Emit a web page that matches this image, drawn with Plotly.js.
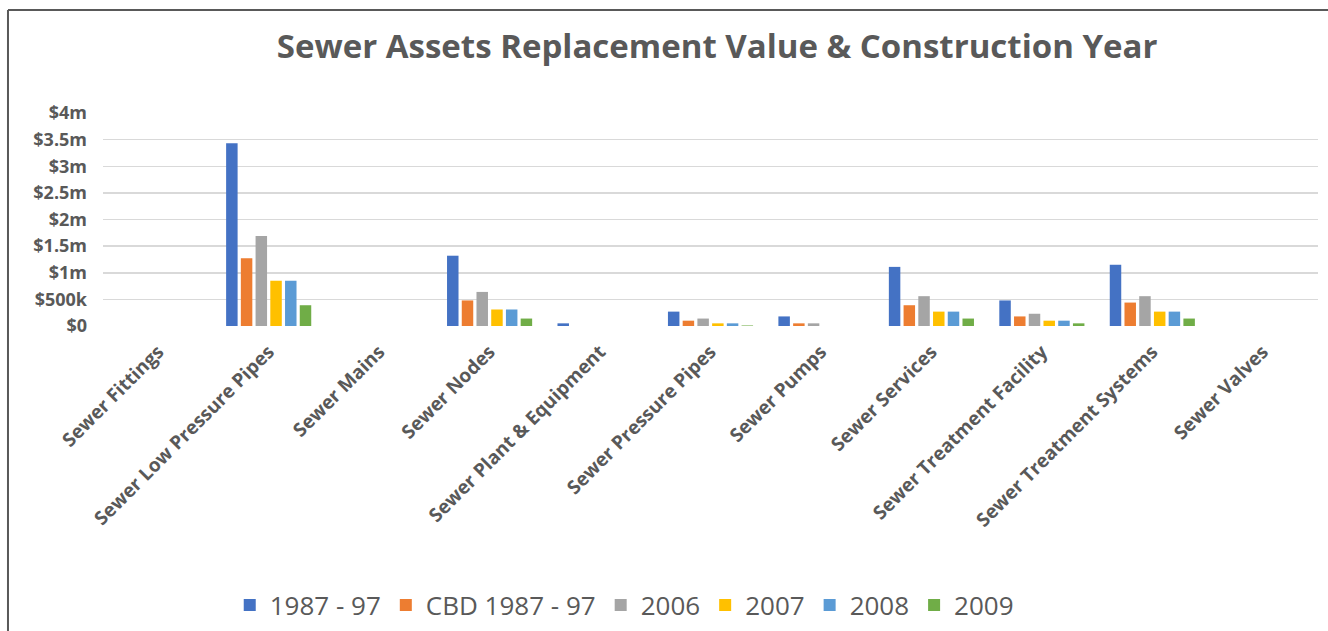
<!DOCTYPE html>
<html>
<head>
<meta charset="utf-8">
<script src="https://cdn.plot.ly/plotly-3.0.1.min.js"></script>
<style>
  html, body { margin: 0; padding: 0; background: #fff; }
  #chart { width: 1328px; height: 631px; }
</style>
</head>
<body>
<div id="chart"></div>
<script>
const categories = ['Sewer Fittings','Sewer Low Pressure Pipes','Sewer Mains','Sewer Nodes','Sewer Plant & Equipment','Sewer Pressure Pipes','Sewer Pumps','Sewer Services','Sewer Treatment Facility','Sewer Treatment Systems','Sewer Valves'];
const seriesNames = ['1987 - 97','CBD 1987 - 97','2006','2007','2008','2009'];
const v1987_97    = [0, 3430000, 0, 1320000, 50000, 270000, 180000, 1110000, 480000, 1150000, 0];
const vCBD1987_97 = [0, 1270000, 0,  480000,     0, 100000,  50000,  390000, 180000,  440000, 0];
const v2006       = [0, 1690000, 0,  640000,     0, 140000,  50000,  560000, 230000,  560000, 0];
const v2007       = [0,  850000, 0,  310000,     0,  50000,      0,  270000, 100000,  270000, 0];
const v2008       = [0,  850000, 0,  310000,     0,  50000,      0,  270000, 100000,  270000, 0];
const v2009       = [0,  390000, 0,  140000,     0,  10000,      0,  140000,  50000,  140000, 0];
const yTickVals = [0, 500000, 1000000, 1500000, 2000000, 2500000, 3000000, 3500000, 4000000];
const yTickText = ['$0','$500k','$1m','$1.5m','$2m','$2.5m','$3m','$3.5m','$4m'];

const colors = ['#4472C4','#ED7D31','#A5A5A5','#FFC000','#5B9BD5','#70AD47'];
const values = [v1987_97, vCBD1987_97, v2006, v2007, v2008, v2009];

const traces = values.map((v, i) => ({
  type: 'bar',
  name: seriesNames[i],
  x: categories,
  y: v,
  marker: { color: colors[i], line: { width: 0 } },
  hoverinfo: 'x+y+name'
}));

const textColor = '#595959';
const layout = {
  width: 1328,
  height: 631,
  paper_bgcolor: '#ffffff',
  plot_bgcolor: '#ffffff',
  margin: { l: 103, r: 10, t: 113, b: 305, autoexpand: false },
  barmode: 'group',
  bargap: 0.2,
  bargroupgap: 0.22,
  title: {
    text: '<b>Sewer Assets Replacement Value & Construction Year</b>',
    font: { family: 'Open Sans, sans-serif', size: 33, color: textColor },
    x: 0.54, xanchor: 'center',
    y: 0.927, yanchor: 'middle'
  },
  xaxis: {
    type: 'category',
    tickangle: -45,
    tickfont: { family: 'Open Sans, sans-serif', size: 19, color: textColor, weight: 700 },
    showgrid: false,
    showline: false,
    ticks: '',
    ticklen: 0,
    ticklabelstandoff: 10,
    automargin: false
  },
  yaxis: {
    range: [0, 4000000],
    tickvals: yTickVals,
    ticktext: yTickText,
    tickfont: { family: 'Open Sans, sans-serif', size: 18, color: textColor, weight: 700 },
    showgrid: true,
    gridcolor: '#D9D9D9',
    gridwidth: 1.5,
    zeroline: false,
    showline: false,
    ticks: '',
    ticklabelstandoff: 15,
    automargin: false
  },
  legend: {
    orientation: 'h',
    x: 0.429, xanchor: 'center',
    y: -1.31, yanchor: 'middle',
    font: { family: 'Open Sans, sans-serif', size: 26, color: textColor },
    itemwidth: 30,
    traceorder: 'normal'
  },
  shapes: [
    { type: 'line', xref: 'paper', yref: 'paper', x0: -0.0782, x1: 1.01, y0: 1.4836, y1: 1.4836, line: { color: '#595959', width: 2 } },
    { type: 'line', xref: 'paper', yref: 'paper', x0: -0.0782, x1: -0.0782, y0: 1.4836, y1: -1.44, line: { color: '#595959', width: 2 } }
  ],
  showlegend: true
};

Plotly.newPlot('chart', traces, layout, { displayModeBar: false, staticPlot: true });
</script>
</body>
</html>
